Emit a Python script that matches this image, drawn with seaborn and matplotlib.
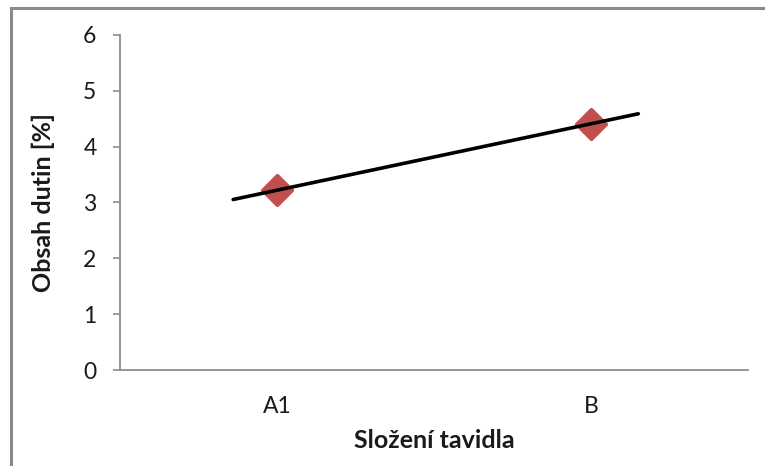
import numpy as np
import pandas as pd
import matplotlib
matplotlib.use("Agg")
import matplotlib.pyplot as plt
import seaborn as sns
from matplotlib.patches import Rectangle

categories = ["A1", "B"]
obsah_dutin = [3.22, 4.41]
y_ticks = [0, 1, 2, 3, 4, 5, 6]

sns.set_theme(style="white")
plt.rcParams["font.family"] = ["Lato", "DejaVu Sans"]

df = pd.DataFrame({"pos": np.arange(len(categories)), "value": obsah_dutin})

fig = plt.figure(figsize=(7.65, 4.66), dpi=100)
ax = fig.add_axes([0.157, 0.206, 0.821, 0.719])

# linear trend, extended a bit back and forward (Excel style)
slope, intercept = np.polyfit(df["pos"], df["value"], 1)
trend_x = np.array([df["pos"].min() - 0.14, df["pos"].max() + 0.15])
trend = pd.DataFrame({"x": trend_x, "y": slope * trend_x + intercept})

sns.scatterplot(data=df, x="pos", y="value", marker="D", s=230, color="#C0504D",
                edgecolor="#C0504D", linewidth=2.5, ax=ax, zorder=2)
for coll in ax.collections:
    coll.set_joinstyle("round")
sns.lineplot(data=trend, x="x", y="y", color="black", linewidth=2.6, ax=ax, zorder=3)

ax.set_xlim(-0.5, len(categories) - 0.5)
ax.set_ylim(0, 6)
ax.set_xticks(df["pos"])
ax.set_xticklabels(categories)
ax.set_yticks(y_ticks)

for s in ["top", "right"]:
    ax.spines[s].set_visible(False)
for s in ["left", "bottom"]:
    ax.spines[s].set_color("#8c8c8c")
    ax.spines[s].set_linewidth(1.3)

ax.tick_params(axis="y", left=True, length=5, width=1.2, color="#8c8c8c",
               labelsize=16.5, labelcolor="#1a1a1a", pad=12)
ax.tick_params(axis="x", bottom=False, labelsize=16.5, labelcolor="#1a1a1a", pad=13)

ax.set_xlabel("Složení tavidla", fontsize=18, fontweight="bold", color="#1a1a1a", labelpad=8)
ax.set_ylabel("Obsah dutin [%]", fontsize=18, fontweight="bold", color="#1a1a1a", labelpad=20)

# outer chart frame (cut at right and bottom edges)
frame = Rectangle((11 / 765, -0.05), 1.0, 1 - 8 / 466 + 0.05, transform=fig.transFigure,
                  fill=False, edgecolor="#8a8a8a", linewidth=2.2)
fig.patches.append(frame)

fig.savefig("out.png", dpi=100)
